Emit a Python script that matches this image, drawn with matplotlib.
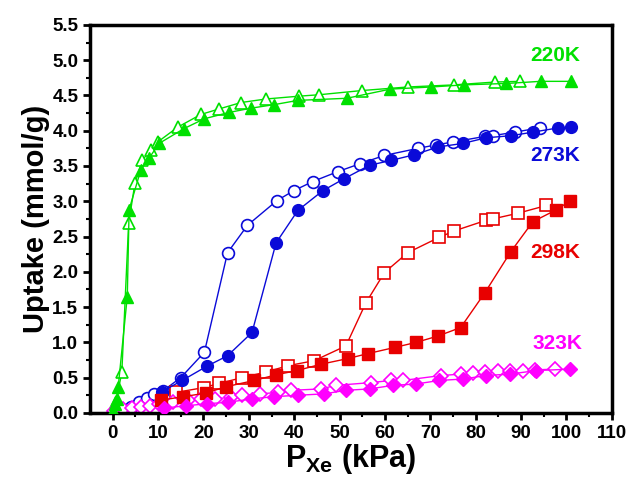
import matplotlib
matplotlib.use('Agg')
import matplotlib.pyplot as plt

plt.rcParams['font.family'] = ['Liberation Sans', 'DejaVu Sans']
plt.rcParams['font.weight'] = 'bold'
plt.rcParams['mathtext.fontset'] = 'custom'
plt.rcParams['mathtext.rm'] = 'Liberation Sans:bold'
plt.rcParams['mathtext.bf'] = 'Liberation Sans:bold'

# 220 K
x220_ads = [0, 0.5, 1.0, 1.2, 3.2, 3.6, 6.2, 8.0, 10.2, 15.7, 20.2, 25.7, 30.5, 35.6, 40.8, 51.6, 61.2, 70.2, 77.5, 86.8, 94.3, 101]
y220_ads = [0.02, 0.12, 0.2, 0.37, 1.65, 2.88, 3.45, 3.61, 3.82, 4.03, 4.17, 4.26, 4.32, 4.37, 4.43, 4.46, 4.59, 4.62, 4.65, 4.67, 4.70, 4.70]
x220_des = [0.3, 0.7, 2.0, 3.5, 4.9, 6.5, 8.4, 9.9, 14.3, 19.4, 23.5, 28.3, 33.8, 41.1, 45.5, 55.0, 65.0, 75.3, 84.2, 89.7]
y220_des = [0.05, 0.15, 0.58, 2.69, 3.26, 3.58, 3.73, 3.84, 4.05, 4.23, 4.31, 4.40, 4.45, 4.49, 4.51, 4.57, 4.62, 4.65, 4.69, 4.70]

# 273 K
x273_ads = [10.8, 15.3, 20.7, 25.3, 30.7, 36.0, 40.8, 46.3, 51.0, 56.6, 61.4, 66.5, 71.7, 77.2, 82.3, 87.9, 92.6, 98.2, 101.1]
y273_ads = [0.30, 0.46, 0.66, 0.81, 1.14, 2.41, 2.87, 3.15, 3.32, 3.51, 3.58, 3.66, 3.77, 3.82, 3.90, 3.93, 3.98, 4.04, 4.05]
x273_des = [2.5, 4.0, 5.8, 7.6, 9.1, 11.0, 15.0, 20.2, 25.3, 29.7, 36.2, 39.9, 44.1, 49.6, 54.4, 59.9, 67.3, 71.3, 75.0, 82.1, 83.8, 88.6, 94.1]
y273_des = [0.04, 0.09, 0.15, 0.21, 0.27, 0.31, 0.50, 0.86, 2.27, 2.66, 3.01, 3.15, 3.28, 3.42, 3.53, 3.65, 3.75, 3.80, 3.84, 3.92, 3.93, 3.98, 4.04]

# 298 K
x298_ads = [10.6, 15.5, 20.5, 24.9, 31.2, 36.0, 40.6, 45.9, 51.8, 56.2, 62.3, 66.9, 71.7, 76.7, 82.0, 87.7, 92.6, 97.8, 100.7]
y298_ads = [0.18, 0.23, 0.28, 0.37, 0.46, 0.54, 0.60, 0.69, 0.77, 0.84, 0.93, 1.00, 1.09, 1.21, 1.70, 2.28, 2.71, 2.88, 3.00]
x298_des = [13.9, 20.2, 23.5, 28.6, 33.8, 38.7, 44.4, 51.4, 55.8, 59.9, 65.0, 72.0, 75.3, 82.3, 83.8, 89.3, 95.6]
y298_des = [0.29, 0.36, 0.42, 0.50, 0.58, 0.67, 0.74, 0.95, 1.56, 1.99, 2.27, 2.49, 2.58, 2.73, 2.75, 2.83, 2.94]

# 323 K
x323_ads = [11.3, 16.1, 20.7, 25.3, 30.8, 35.6, 40.8, 46.6, 51.4, 56.6, 61.7, 66.9, 72.0, 77.2, 82.3, 87.5, 93.4, 100.7]
y323_ads = [0.07, 0.10, 0.13, 0.15, 0.20, 0.23, 0.25, 0.27, 0.32, 0.34, 0.39, 0.41, 0.46, 0.48, 0.53, 0.55, 0.60, 0.62]
x323_des = [0.3, 2.2, 4.2, 6.2, 8.3, 10.3, 13.2, 16.5, 19.5, 22.5, 26.0, 28.6, 32.5, 36.4, 39.3, 45.9, 49.2, 57.0, 61.4, 64.0, 72.4, 76.8, 79.4, 82.0, 84.9, 87.5, 90.4, 93.0, 97.4]
y323_des = [0.03, 0.05, 0.07, 0.08, 0.10, 0.12, 0.16, 0.18, 0.19, 0.20, 0.22, 0.25, 0.27, 0.29, 0.32, 0.34, 0.39, 0.43, 0.46, 0.46, 0.53, 0.55, 0.57, 0.58, 0.59, 0.60, 0.60, 0.61, 0.62]

series = [
    ('220K', '#00e000', '^', x220_ads, y220_ads, x220_des, y220_des, (103, 5.07)),
    ('273K', '#0a0ad8', 'o', x273_ads, y273_ads, x273_des, y273_des, (103, 3.65)),
    ('298K', '#e80000', 's', x298_ads, y298_ads, x298_des, y298_des, (103, 2.28)),
    ('323K', '#ff00ff', 'D', x323_ads, y323_ads, x323_des, y323_des, (103.5, 0.98)),
]
msizes = {'^': 9, 'o': 8.5, 's': 8, 'D': 7.5}

fig = plt.figure(figsize=(6.3, 4.79), dpi=100)
ax = fig.add_axes([0.143, 0.138, 0.828, 0.81])

for name, c, m, xa, ya, xd, yd, pos in series:
    ms = msizes[m]
    ax.plot(xd, yd, color=c, lw=1, marker=m, ms=ms, mfc='white', mec=c, mew=1.2, zorder=2)
    ax.plot(xa, ya, color=c, lw=1, marker=m, ms=ms, mfc=c, mec=c, zorder=3)
    ax.text(pos[0], pos[1], name, color=c, fontsize=15, fontweight='bold',
            ha='right', va='center')

ax.set_xlim(-5, 110)
ax.set_ylim(0, 5.5)
ax.set_xticks(range(0, 111, 10))
ax.set_xticks(range(5, 110, 10), minor=True)
ax.set_yticks([i * 0.5 for i in range(12)])
ax.set_yticks([0.25 + i * 0.5 for i in range(11)], minor=True)
ax.set_yticklabels(['%.1f' % (i * 0.5) for i in range(12)])
ax.tick_params(axis='both', which='major', labelsize=13.5, width=2, length=5, direction='out')
ax.tick_params(axis='both', which='minor', width=1.5, length=3, direction='out')
for s in ax.spines.values():
    s.set_linewidth(2.5)

ax.set_ylabel('Uptake (mmol/g)', fontsize=21, fontweight='bold', labelpad=2)
ax.set_xlabel(r'P$_{\mathbf{Xe}}$ (kPa)', fontsize=22, fontweight='bold', labelpad=0)

plt.savefig('out.png', dpi=100)
plt.close()
